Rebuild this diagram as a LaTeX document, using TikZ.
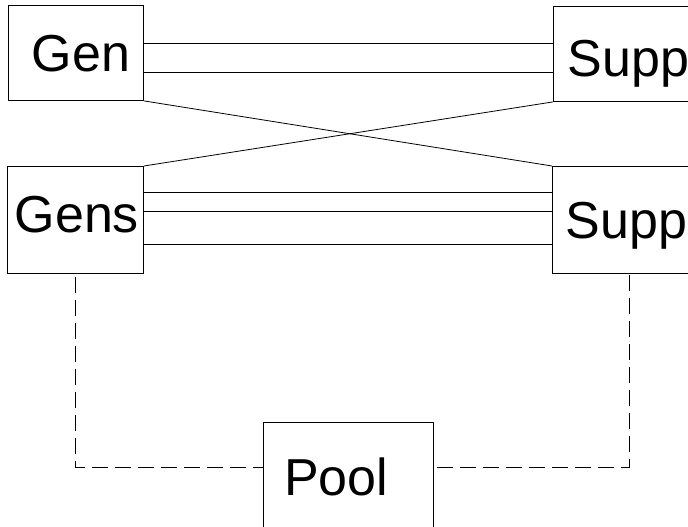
\documentclass[tikz,border=0pt]{standalone}
\usepackage{fontspec}
\setmainfont{Liberation Sans}
\begin{document}
\begin{tikzpicture}[x=1pt,y=1pt,
  box/.style={draw, line width=0.9pt, rectangle, inner sep=0pt, anchor=north west},
  lbl/.style={inner sep=0pt, anchor=base west, font=\fontsize{52}{60}\selectfont},
  conn/.style={line width=0.8pt},
  dconn/.style={line width=0.8pt, dash pattern=on 16pt off 7pt, dash phase=20pt}]
\useasboundingbox (0,0) rectangle (688,-527);
\clip (0,0) rectangle (688,-527);
% boxes
\node[box, minimum width=135pt, minimum height=95pt] (gen) at (8,-5) {};
\node[box, minimum width=140pt, minimum height=95pt] (suppA) at (553,-6) {};
\node[box, minimum width=136pt, minimum height=107pt] (gens) at (7,-166) {};
\node[box, minimum width=140pt, minimum height=107pt] (suppB) at (552,-166) {};
\node[box, minimum width=170pt, minimum height=112pt] (pool) at (263,-422) {};
% labels
\node[lbl] (tgen) at (31.5,-72) {Gen};
\node[lbl] (tsuppA) at (567.5,-77) {Supp};
\node[lbl] (tgens) at (14.5,-232) {Gens};
\node[lbl] (tsuppB) at (565.5,-238) {Supp};
\node[lbl] (tpool) at (284,-495) {Pool};
% connectors
\draw[conn] ([yshift=-38pt]gen.north east) -- ([yshift=-37pt]suppA.north west);
\draw[conn] ([yshift=-67pt]gen.north east) -- ([yshift=-66pt]suppA.north west);
\draw[conn] (gen.south east) -- (suppB.north west);
\draw[conn] (gens.north east) -- (suppA.south west);
\draw[conn] ([yshift=-26pt]gens.north east) -- ([yshift=-26pt]suppB.north west);
\draw[conn] ([yshift=-45pt]gens.north east) -- ([yshift=-45pt]suppB.north west);
\draw[conn] ([yshift=-78pt]gens.north east) -- ([yshift=-78pt]suppB.north west);
\draw[dconn] (gens.south) |- ([yshift=-45pt]pool.north west);
\draw[dconn] ([yshift=-45pt]pool.north east) -| ([xshift=77pt]suppB.south west);
\end{tikzpicture}
\end{document}
